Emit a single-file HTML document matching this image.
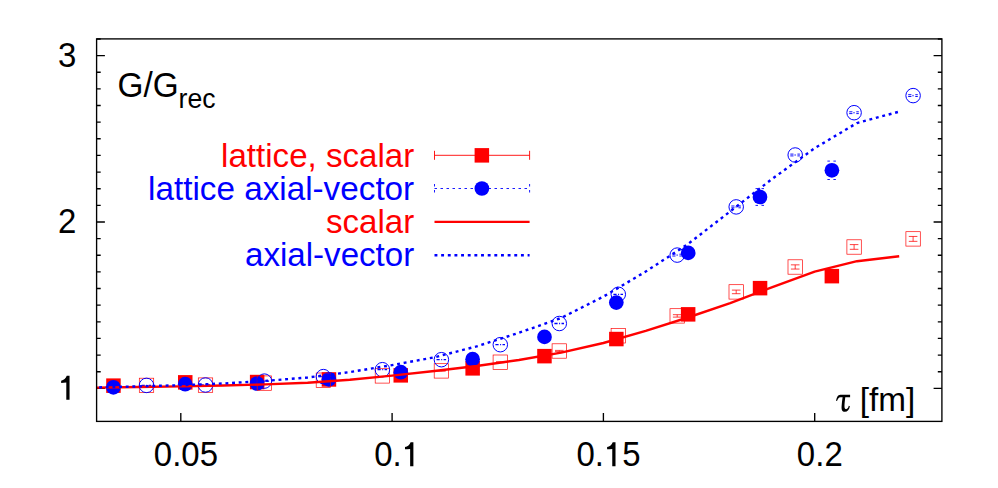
<!DOCTYPE html>
<html><head><meta charset="utf-8"><title>G/Grec</title>
<style>html,body{margin:0;padding:0;background:#fff;width:998px;height:488px;overflow:hidden;font-family:"Liberation Sans",sans-serif}</style>
</head><body>
<svg width="998" height="488" viewBox="0 0 998 488" style="position:absolute;left:0;top:0">
<rect x="0" y="0" width="998" height="488" fill="#fff"/>
<path d="M96.60 388.35h8.3 M941.90 388.35h-8.3 M96.60 371.71h4.1 M941.90 371.71h-4.1 M96.60 355.07h4.1 M941.90 355.07h-4.1 M96.60 338.44h4.1 M941.90 338.44h-4.1 M96.60 321.80h4.1 M941.90 321.80h-4.1 M96.60 305.16h4.1 M941.90 305.16h-4.1 M96.60 288.52h4.1 M941.90 288.52h-4.1 M96.60 271.89h4.1 M941.90 271.89h-4.1 M96.60 255.25h4.1 M941.90 255.25h-4.1 M96.60 238.61h4.1 M941.90 238.61h-4.1 M96.60 221.98h8.3 M941.90 221.98h-8.3 M96.60 205.34h4.1 M941.90 205.34h-4.1 M96.60 188.70h4.1 M941.90 188.70h-4.1 M96.60 172.06h4.1 M941.90 172.06h-4.1 M96.60 155.42h4.1 M941.90 155.42h-4.1 M96.60 138.79h4.1 M941.90 138.79h-4.1 M96.60 122.15h4.1 M941.90 122.15h-4.1 M96.60 105.51h4.1 M941.90 105.51h-4.1 M96.60 88.88h4.1 M941.90 88.88h-4.1 M96.60 72.24h4.1 M941.90 72.24h-4.1 M96.60 55.60h8.3 M941.90 55.60h-8.3 M96.60 38.96h4.1 M941.90 38.96h-4.1 M180.80 421.40v-8.3 M392.10 421.40v-8.3 M603.40 421.40v-8.3 M814.70 421.40v-8.3" stroke="#000" stroke-width="1.35" fill="none"/>
<rect x="106.2" y="378.4" width="14.5" height="14.5" fill="#f00"/>
<rect x="178.0" y="375.1" width="14.5" height="14.5" fill="#f00"/>
<rect x="249.9" y="374.8" width="14.5" height="14.5" fill="#f00"/>
<rect x="321.7" y="372.2" width="14.5" height="14.5" fill="#f00"/>
<rect x="393.5" y="368.1" width="14.5" height="14.5" fill="#f00"/>
<rect x="465.4" y="361.1" width="14.5" height="14.5" fill="#f00"/>
<rect x="537.2" y="348.9" width="14.5" height="14.5" fill="#f00"/>
<rect x="609.1" y="331.8" width="14.5" height="14.5" fill="#f00"/>
<rect x="680.9" y="307.1" width="14.5" height="14.5" fill="#f00"/>
<rect x="752.8" y="280.9" width="14.5" height="14.5" fill="#f00"/>
<rect x="824.6" y="268.9" width="14.5" height="14.5" fill="#f00"/>
<path d="M755.5 188.6h9M755.5 205.4h9" stroke="#00f" stroke-width="0.9" stroke-dasharray="2.5 3.5" fill="none"/>
<path d="M827.4 161.1h9M827.4 179.5h9" stroke="#00f" stroke-width="0.9" stroke-dasharray="2.5 3.5" fill="none"/>
<circle cx="113.4" cy="387.3" r="7.35" fill="#00f"/>
<circle cx="185.2" cy="384.2" r="7.35" fill="#00f"/>
<circle cx="257.1" cy="383.5" r="7.35" fill="#00f"/>
<circle cx="328.9" cy="379.3" r="7.35" fill="#00f"/>
<circle cx="400.8" cy="372.2" r="7.35" fill="#00f"/>
<circle cx="472.6" cy="359.2" r="7.35" fill="#00f"/>
<circle cx="544.5" cy="336.9" r="7.35" fill="#00f"/>
<circle cx="616.3" cy="302.6" r="7.35" fill="#00f"/>
<circle cx="688.2" cy="252.9" r="7.35" fill="#00f"/>
<circle cx="760.0" cy="197.0" r="7.35" fill="#00f"/>
<circle cx="831.9" cy="170.3" r="7.35" fill="#00f"/>
<rect x="139.3" y="378.2" width="14.4" height="14.4" fill="none" stroke="#f00" stroke-width="0.68"/>
<rect x="198.3" y="377.9" width="14.4" height="14.4" fill="none" stroke="#f00" stroke-width="0.68"/>
<rect x="257.2" y="375.9" width="14.4" height="14.4" fill="none" stroke="#f00" stroke-width="0.68"/>
<rect x="316.2" y="373.0" width="14.4" height="14.4" fill="none" stroke="#f00" stroke-width="0.68"/>
<rect x="375.2" y="368.7" width="14.4" height="14.4" fill="none" stroke="#f00" stroke-width="0.68"/>
<rect x="434.2" y="363.7" width="14.4" height="14.4" fill="none" stroke="#f00" stroke-width="0.68"/>
<path d="M441.4 370.55v0.60M437.1 370.55h8.6M437.1 371.15h8.6" stroke="#f00" stroke-width="0.75" fill="none"/>
<rect x="493.1" y="355.0" width="14.4" height="14.4" fill="none" stroke="#f00" stroke-width="0.68"/>
<path d="M500.3 361.70v1.00M496.0 361.70h8.6M496.0 362.70h8.6" stroke="#f00" stroke-width="0.75" fill="none"/>
<rect x="552.1" y="343.8" width="14.4" height="14.4" fill="none" stroke="#f00" stroke-width="0.68"/>
<path d="M559.3 350.40v1.20M555.0 350.40h8.6M555.0 351.60h8.6" stroke="#f00" stroke-width="0.75" fill="none"/>
<rect x="611.1" y="328.6" width="14.4" height="14.4" fill="none" stroke="#f00" stroke-width="0.68"/>
<path d="M618.3 334.85v1.80M614.0 334.85h8.6M614.0 336.65h8.6" stroke="#f00" stroke-width="0.75" fill="none"/>
<rect x="670.0" y="308.7" width="14.4" height="14.4" fill="none" stroke="#f00" stroke-width="0.68"/>
<path d="M677.2 314.70v2.40M672.9 314.70h8.6M672.9 317.10h8.6" stroke="#f00" stroke-width="0.75" fill="none"/>
<rect x="729.0" y="284.7" width="14.4" height="14.4" fill="none" stroke="#f00" stroke-width="0.68"/>
<path d="M736.2 290.10v3.60M731.9 290.10h8.6M731.9 293.70h8.6" stroke="#f00" stroke-width="0.75" fill="none"/>
<rect x="788.0" y="259.8" width="14.4" height="14.4" fill="none" stroke="#f00" stroke-width="0.68"/>
<path d="M795.2 264.85v4.20M790.9 264.85h8.6M790.9 269.05h8.6" stroke="#f00" stroke-width="0.75" fill="none"/>
<rect x="846.9" y="239.8" width="14.4" height="14.4" fill="none" stroke="#f00" stroke-width="0.68"/>
<path d="M854.1 244.60v4.70M849.8 244.60h8.6M849.8 249.30h8.6" stroke="#f00" stroke-width="0.75" fill="none"/>
<rect x="905.9" y="231.7" width="14.4" height="14.4" fill="none" stroke="#f00" stroke-width="0.68"/>
<path d="M913.1 236.45v4.90M908.8 236.45h8.6M908.8 241.35h8.6" stroke="#f00" stroke-width="0.75" fill="none"/>
<circle cx="146.5" cy="385.4" r="7.25" fill="none" stroke="#00f" stroke-width="1.0"/>
<path d="M141.6 385.4h9.6" stroke="#00f" stroke-width="1.3" stroke-dasharray="3.2 1.5 1 1.4 2.5 10" fill="none"/>
<circle cx="205.5" cy="385.0" r="7.25" fill="none" stroke="#00f" stroke-width="1.0"/>
<path d="M200.6 385.0h9.6" stroke="#00f" stroke-width="1.3" stroke-dasharray="3.2 1.5 1 1.4 2.5 10" fill="none"/>
<circle cx="264.4" cy="381.1" r="7.25" fill="none" stroke="#00f" stroke-width="1.0"/>
<path d="M259.5 381.1h9.6" stroke="#00f" stroke-width="1.3" stroke-dasharray="3.2 1.5 1 1.4 2.5 10" fill="none"/>
<circle cx="323.4" cy="376.6" r="7.25" fill="none" stroke="#00f" stroke-width="1.0"/>
<path d="M318.5 376.6h9.6" stroke="#00f" stroke-width="1.3" stroke-dasharray="3.2 1.5 1 1.4 2.5 10" fill="none"/>
<circle cx="382.4" cy="369.7" r="7.25" fill="none" stroke="#00f" stroke-width="1.0"/>
<path d="M377.5 369.7h9.6" stroke="#00f" stroke-width="1.3" stroke-dasharray="3.2 1.5 1 1.4 2.5 10" fill="none"/>
<circle cx="441.4" cy="359.7" r="7.25" fill="none" stroke="#00f" stroke-width="1.0"/>
<path d="M436.5 359.7h9.6" stroke="#00f" stroke-width="1.3" stroke-dasharray="3.2 1.5 1 1.4 2.5 10" fill="none"/>
<circle cx="500.3" cy="344.7" r="7.25" fill="none" stroke="#00f" stroke-width="1.0"/>
<path d="M495.4 344.7h9.6" stroke="#00f" stroke-width="1.3" stroke-dasharray="3.2 1.5 1 1.4 2.5 10" fill="none"/>
<circle cx="559.3" cy="323.5" r="7.25" fill="none" stroke="#00f" stroke-width="1.0"/>
<path d="M554.4 323.5h9.6" stroke="#00f" stroke-width="1.3" stroke-dasharray="3.2 1.5 1 1.4 2.5 10" fill="none"/>
<circle cx="618.3" cy="294.3" r="7.25" fill="none" stroke="#00f" stroke-width="1.0"/>
<path d="M613.4 294.3h9.6" stroke="#00f" stroke-width="1.3" stroke-dasharray="3.2 1.5 1 1.4 2.5 10" fill="none"/>
<circle cx="677.2" cy="255.1" r="7.25" fill="none" stroke="#00f" stroke-width="1.0"/>
<path d="M672.3 254.2h9.6M672.3 256.0h9.6" stroke="#00f" stroke-width="0.95" stroke-dasharray="3.2 3.9 2.5 10" fill="none"/>
<rect x="676.6" y="254.4" width="1" height="1.4" fill="#00f"/>
<circle cx="736.2" cy="206.9" r="7.25" fill="none" stroke="#00f" stroke-width="1.0"/>
<path d="M731.3 206.0h9.6M731.3 207.8h9.6" stroke="#00f" stroke-width="0.95" stroke-dasharray="3.2 3.9 2.5 10" fill="none"/>
<rect x="735.6" y="206.2" width="1" height="1.4" fill="#00f"/>
<circle cx="795.2" cy="155.0" r="7.25" fill="none" stroke="#00f" stroke-width="1.0"/>
<path d="M790.3 154.1h9.6M790.3 155.9h9.6" stroke="#00f" stroke-width="0.95" stroke-dasharray="3.2 3.9 2.5 10" fill="none"/>
<rect x="794.6" y="154.3" width="1" height="1.4" fill="#00f"/>
<circle cx="854.1" cy="112.7" r="7.25" fill="none" stroke="#00f" stroke-width="1.0"/>
<path d="M849.2 111.8h9.6M849.2 113.6h9.6" stroke="#00f" stroke-width="0.95" stroke-dasharray="3.2 3.9 2.5 10" fill="none"/>
<rect x="853.5" y="112.0" width="1" height="1.4" fill="#00f"/>
<circle cx="913.1" cy="95.6" r="7.25" fill="none" stroke="#00f" stroke-width="1.0"/>
<path d="M908.2 94.7h9.6M908.2 96.5h9.6" stroke="#00f" stroke-width="0.95" stroke-dasharray="3.2 3.9 2.5 10" fill="none"/>
<rect x="912.5" y="94.9" width="1" height="1.4" fill="#00f"/>
<path d="M96.8 387.6 L138.5 387.0 L180.8 386.4 L223.1 385.5 L265.3 384.4 L307.6 382.8 L349.8 379.8 L392.1 375.6 L434.4 371.0 L476.6 366.0 L518.9 360.0 L561.1 352.6 L603.4 343.0 L645.7 330.8 L687.9 317.5 L730.2 303.2 L772.4 287.1 L814.7 271.7 L857.0 261.2 L899.2 256.3" stroke="#f00" stroke-width="2.4" fill="none" stroke-linejoin="round"/>
<path d="M897.9 112.0 L857.0 123.0 L814.7 148.2 L772.4 178.7 L730.2 211.4 L687.9 244.1 L645.7 271.6 L603.4 296.6 L561.1 318.0 L518.9 332.8 L476.6 346.4 L434.4 357.3 L392.1 365.1 L349.8 372.1 L307.6 377.5 L265.3 380.9 L223.1 383.5 L180.8 385.2 L138.5 386.4 L96.8 387.4" stroke="#00f" stroke-width="2.4" fill="none" stroke-dasharray="2.9 3.75"/>
<path d="M434.5 155.3H529.6M434.5 150.8v9M529.6 150.8v9" stroke="#f00" stroke-width="0.9" fill="none"/>
<rect x="474.6" y="148.1" width="14.5" height="14.5" fill="#f00"/>
<path d="M434.5 188.5H529.6M434.5 184.0v9M529.6 184.0v9" stroke="#00f" stroke-width="0.9" stroke-dasharray="2.5 3.5" fill="none"/>
<circle cx="481.9" cy="188.5" r="7.35" fill="#00f"/>
<path d="M434.5 221.9H529.6" stroke="#f00" stroke-width="2.4" fill="none"/>
<path d="M434.5 255.2H529.6" stroke="#00f" stroke-width="2.4" stroke-dasharray="2.9 3.75" fill="none"/>
<rect x="96.60" y="38.90" width="845.30" height="382.50" fill="none" stroke="#000" stroke-width="1.35"/>
<text transform="translate(57.95 67.10) scale(1.0000 1.0850)" font-family="Liberation Sans, sans-serif" font-size="33.0" text-anchor="start" fill="#000">3</text>
<text transform="translate(57.95 233.48) scale(1.0000 1.0850)" font-family="Liberation Sans, sans-serif" font-size="33.0" text-anchor="start" fill="#000">2</text>
<path d="M69.55 375.85 L69.55 399.85 L66.30 399.85 L66.30 382.55 C64.55 382.85 62.75 382.95 61.15 382.95 L61.15 380.65 C63.75 380.25 65.95 378.55 66.75 375.85 Z" fill="#000"/>
<text transform="translate(153.79 466.20) scale(1.0000 1.0850)" font-family="Liberation Sans, sans-serif" font-size="33.0" text-anchor="start" fill="#000">0.05</text>
<text transform="translate(374.27 466.20) scale(1.0000 1.0850)" font-family="Liberation Sans, sans-serif" font-size="33.0" text-anchor="start" fill="#000">0.</text>
<path d="M413.39 442.20 L413.39 466.20 L410.14 466.20 L410.14 448.90 C408.39 449.20 406.59 449.30 404.99 449.30 L404.99 447.00 C407.59 446.60 409.79 444.90 410.59 442.20 Z" fill="#000"/>
<text transform="translate(576.39 466.20) scale(1.0000 1.0850)" font-family="Liberation Sans, sans-serif" font-size="33.0" text-anchor="start" fill="#000">0.</text>
<path d="M615.51 442.20 L615.51 466.20 L612.26 466.20 L612.26 448.90 C610.51 449.20 608.71 449.30 607.11 449.30 L607.11 447.00 C609.71 446.60 611.91 444.90 612.71 442.20 Z" fill="#000"/>
<text transform="translate(622.26 466.20) scale(1.0000 1.0850)" font-family="Liberation Sans, sans-serif" font-size="33.0" text-anchor="start" fill="#000">5</text>
<text transform="translate(796.87 466.20) scale(1.0000 1.0850)" font-family="Liberation Sans, sans-serif" font-size="33.0" text-anchor="start" fill="#000">0.2</text>
<text transform="translate(117.50 97.20) scale(1 1.040)" font-family="Liberation Sans, sans-serif" font-size="33.3" fill="#000">G/G<tspan font-size="26.6" dy="10">rec</tspan></text>
<text transform="translate(915.20 411.30) scale(1 0.975)" font-family="Liberation Sans, sans-serif" font-size="33.3" fill="#000" text-anchor="end">[fm]</text>
<path d="M836.07 400.80 C836.68 397.42 837.81 394.65 840.37 394.65 L850.10 394.65 L850.10 397.21 L845.29 397.21 C844.88 400.49 844.47 403.57 844.47 406.13 C844.47 408.69 845.49 409.30 846.52 409.10 C847.75 408.79 848.36 407.46 848.77 405.82 L849.90 406.23 C849.39 409.71 847.34 411.86 844.98 411.86 C841.91 411.86 841.39 409.20 841.60 406.13 C841.80 403.05 842.21 399.98 842.62 397.21 L840.57 397.21 C838.52 397.21 837.70 398.95 836.99 401.11 Z" fill="#000"/>
<text transform="translate(414.20 166.50) scale(1.0000 1.0200)" font-family="Liberation Sans, sans-serif" font-size="33.1" text-anchor="end" fill="#f00">lattice, scalar</text>
<text transform="translate(414.20 199.70) scale(1.0000 1.0200)" font-family="Liberation Sans, sans-serif" font-size="33.27" text-anchor="end" fill="#00f">lattice axial-vector</text>
<text transform="translate(414.20 233.10) scale(1.0000 1.0200)" font-family="Liberation Sans, sans-serif" font-size="33.1" text-anchor="end" fill="#f00">scalar</text>
<text transform="translate(414.20 266.40) scale(1.0000 1.0200)" font-family="Liberation Sans, sans-serif" font-size="33.1" text-anchor="end" fill="#00f">axial-vector</text>
</svg>
</body></html>
